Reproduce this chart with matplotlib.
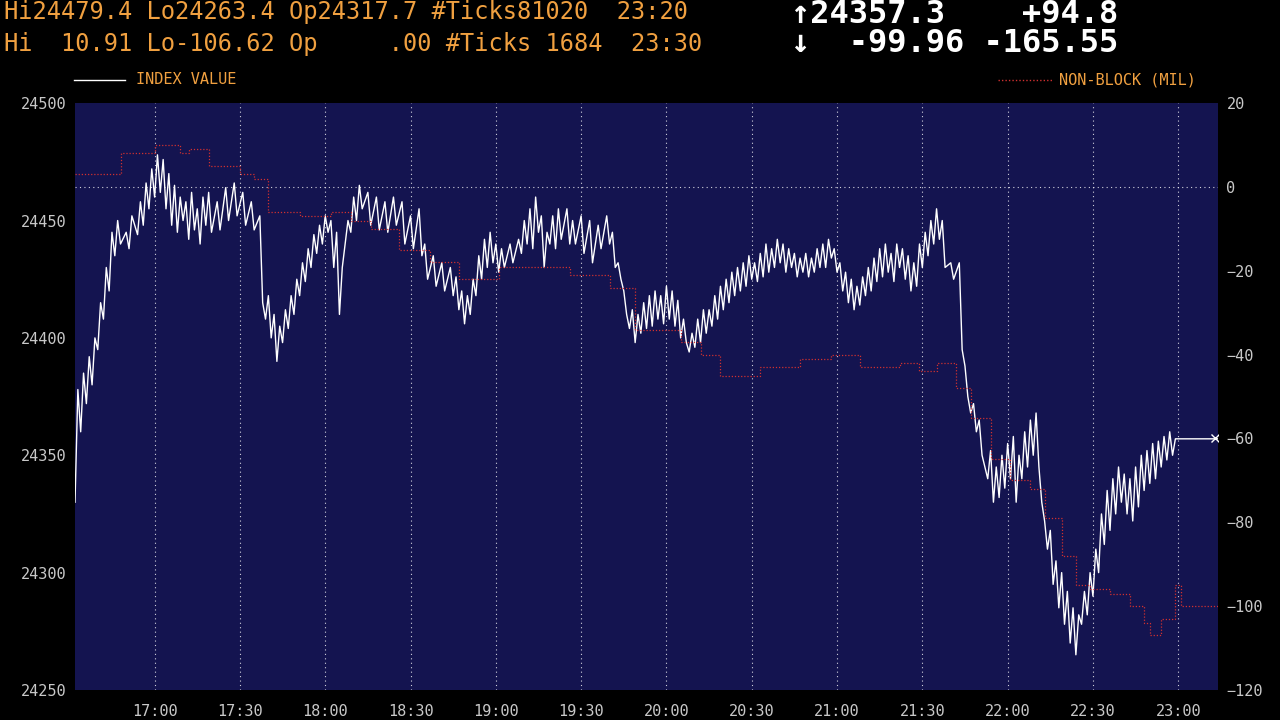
import matplotlib
matplotlib.use("Agg")
import matplotlib.pyplot as plt

# minutes after 17:00
idx_t = [-28, -27, -26, -25, -24, -23, -22, -21, -20, -19, -18, -17, -16, -15, -14, -13, -12, -10, -9, -8,
         -6, -5, -4, -3, -2, -1, 0, 1, 2, 3, 4, 5, 6, 7, 8, 9, 10, 11, 12, 13, 14, 15, 16, 17, 18, 19, 20, 22,
         23, 25, 26, 28, 29, 31, 32, 34, 35, 37, 38, 39, 40, 41, 42, 43, 44, 45, 46, 47, 48, 49, 50, 51, 52,
         53, 54, 55, 56, 57, 58, 59, 60, 61, 62, 63, 64, 65, 66, 67, 68, 69, 70, 71, 72, 73, 75, 76, 78, 79,
         81, 82, 84, 85, 87, 88, 90, 91, 93, 94, 95, 96, 98, 99, 101, 102, 104, 105, 106, 107, 108, 109, 110,
         111, 112, 113, 114, 115, 116, 117, 118, 119, 120, 121, 122, 123, 125, 126, 128, 129, 130, 131, 132,
         133, 134, 135, 136, 137, 138, 139, 140, 141, 142, 143, 145, 146, 147, 148,
         150, 151, 153, 154, 156, 157, 159, 160, 161, 162, 163, 164, 165, 166, 167, 168, 169, 170, 171, 172,
         173, 174, 175, 176, 177, 178, 179, 180, 181, 182, 183, 184, 185, 186, 187, 188, 189, 190, 191, 192,
         193, 194, 195, 196, 197, 198, 199, 200, 201, 202, 203, 204, 205, 206, 207, 208, 209, 210, 211, 212,
         213, 214, 215, 216, 217, 218, 219, 220, 221, 222, 223, 224, 225, 226, 227, 228, 229, 230, 231, 232,
         233, 234, 235, 236, 237, 238, 239, 240, 241, 242, 243, 244, 245, 246, 247, 248, 249, 250, 251, 252,
         253, 254, 255, 256, 257, 258, 259, 260, 261, 262, 263, 264, 265, 266, 267, 268, 269, 270, 271, 272,
         273, 274, 275, 276, 277, 278, 280, 281, 283, 284, 285, 286, 287, 288, 289, 290, 291, 292, 293, 294,
         295, 296, 297, 298, 299, 300, 301, 302, 303, 304, 305, 306, 307, 308, 309, 310, 311, 312, 313, 314,
         315, 316, 317, 318, 319, 320, 321, 322, 323, 324, 325, 326, 327, 328, 329, 330, 331, 332, 333, 334,
         335, 336, 337, 338, 339, 340, 341, 342, 343, 344, 345, 346, 347, 348, 349, 350, 351, 352, 353, 354,
         355, 356, 357, 358, 359, 374]
idx_v = [24330, 24378, 24360, 24385, 24372, 24392, 24380, 24400, 24395, 24415, 24408, 24430, 24420, 24445,
         24435, 24450, 24440, 24445, 24438, 24452, 24444, 24458, 24448, 24466, 24455, 24472, 24460, 24478,
         24462, 24476, 24455, 24470, 24448, 24465, 24445, 24460, 24450, 24458, 24442, 24462, 24446, 24455,
         24440, 24460, 24448, 24462, 24445, 24458, 24446, 24464, 24450, 24466, 24452, 24462, 24448, 24458,
         24446, 24452, 24415, 24408, 24418, 24400, 24410, 24390, 24405, 24398, 24412, 24404, 24418, 24410,
         24425, 24418, 24432, 24424, 24438, 24430, 24444, 24436, 24448, 24440, 24452, 24445, 24450, 24430,
         24445, 24410, 24430, 24440, 24450, 24445, 24460, 24450, 24465, 24455, 24462, 24448, 24460, 24446,
         24458, 24445, 24460, 24448, 24458, 24440, 24452, 24438, 24455, 24435, 24440, 24425, 24435, 24422,
         24432, 24420, 24430, 24418, 24426, 24412, 24420, 24406, 24418, 24410, 24425, 24418, 24435, 24425,
         24442, 24430, 24445, 24432, 24440, 24428, 24438, 24430, 24440, 24432, 24442, 24436, 24450, 24440,
         24455, 24438, 24460, 24445, 24452, 24430, 24445, 24440, 24452, 24438, 24455, 24442, 24455, 24440,
         24450, 24440,
         24452, 24436, 24450, 24432, 24448, 24438, 24452, 24440, 24445, 24430, 24432, 24425, 24420, 24410,
         24404, 24412, 24398, 24410, 24402, 24415, 24404, 24418, 24405, 24420, 24408, 24418, 24406, 24422,
         24408, 24420, 24405, 24416, 24400, 24408, 24398, 24394, 24402, 24396, 24408, 24398, 24412, 24402,
         24412, 24405, 24418, 24408, 24422, 24412, 24425, 24415, 24428, 24418, 24430, 24420, 24432, 24422,
         24435, 24425, 24432, 24424, 24436, 24426, 24440, 24428, 24438, 24430, 24442, 24432, 24440, 24428,
         24438, 24430, 24436, 24426, 24434, 24428, 24436, 24426, 24434, 24428, 24438, 24430, 24440, 24430,
         24442, 24434, 24438, 24428, 24432, 24420, 24428, 24415, 24425, 24412, 24422, 24414, 24426, 24418,
         24430, 24420, 24434, 24424, 24438, 24426, 24440, 24428, 24436, 24424, 24440, 24430, 24438, 24425,
         24435, 24420, 24432, 24422, 24440, 24430, 24445, 24435, 24450, 24440, 24455, 24442, 24450, 24430,
         24432, 24425, 24432, 24395, 24388, 24375, 24368, 24372, 24360, 24365, 24350, 24345, 24340, 24352,
         24330, 24345, 24332, 24350, 24336, 24355, 24340, 24358, 24330, 24350, 24340, 24360, 24345, 24365,
         24350, 24368, 24345, 24330, 24322, 24310, 24318, 24295, 24305, 24285, 24300, 24278, 24292, 24270,
         24285, 24265, 24282, 24278, 24292, 24282, 24300, 24290, 24310, 24300, 24325, 24312, 24335, 24318,
         24340, 24325, 24345, 24330, 24342, 24325, 24340, 24322, 24345, 24328, 24350, 24335, 24352, 24338,
         24355, 24340, 24356, 24345, 24358, 24348, 24360, 24350, 24357, 24357]

blk_t = [-28, -12, 0, 9, 12, 19, 30, 35, 40, 51, 62, 69, 76, 86, 97, 107, 121, 139, 146, 160, 169, 185,
         192, 199, 213, 227, 238, 248, 262, 269, 275, 282, 287, 294, 301, 308, 313, 319, 324, 329, 336,
         343, 348, 350, 354, 359, 361, 374]
blk_v = [3, 8, 10, 8, 9, 5, 3, 2, -6, -7, -6, -8, -10, -15, -18, -22, -19, -19, -21, -24, -34, -37, -40,
         -45, -43, -41, -40, -43, -42, -44, -42, -48, -55, -65, -70, -72, -79, -88, -95, -96, -97, -100,
         -104, -107, -103, -95, -100, -100]

tick_pos = [0, 30, 60, 90, 120, 150, 180, 210, 240, 270, 300, 330, 360]
tick_lab = ["17:00", "17:30", "18:00", "18:30", "19:00", "19:30", "20:00", "20:30",
            "21:00", "21:30", "22:00", "22:30", "23:00"]

MONO = "DejaVu Sans Mono"
ORANGE = "#f0a040"
GREY = "#c8c8c8"

fig = plt.figure(figsize=(12.8, 7.2), dpi=100, facecolor="black")
ax = fig.add_axes([0.0586, 0.0417, 0.893, 0.815])
ax.set_facecolor("#141450")
ax2 = ax.twinx()

ax.plot(idx_t, idx_v, color="white", lw=1.0, zorder=3)
ax2.step(blk_t, blk_v, where="post", color="#d03030", lw=0.9, ls=(0, (1, 1.5)), zorder=2)
ax2.plot([idx_t[-1] - 1], [-60], marker="x", color="white", ms=6, mew=1)

ax.set_xlim(-28, 374)
ax.set_ylim(24250, 24500)
ax2.set_ylim(-120, 20)
ax.set_xticks(tick_pos)
ax.set_xticklabels(tick_lab)
ax.set_yticks(range(24250, 24501, 50))
ax2.set_yticks(range(-120, 21, 20))
for a in (ax, ax2):
    a.tick_params(colors=GREY, labelsize=11, length=0, pad=6)
    for lab in a.get_xticklabels() + a.get_yticklabels():
        lab.set_fontfamily(MONO)
    for s in a.spines.values():
        s.set_visible(False)
ax.tick_params(axis="x", pad=10)
for x in tick_pos:
    ax.axvline(x, color="white", ls=(0, (1, 3)), lw=0.8, alpha=0.8, zorder=1)
ax2.axhline(0, color="white", ls=(0, (1, 3)), lw=0.8, alpha=0.8, zorder=1)

# header lines
fig.text(0.003, 0.984, "Hi24479.4 Lo24263.4 Op24317.7 #Ticks81020  23:20", color=ORANGE,
         family=MONO, fontsize=17, va="center")
fig.text(0.003, 0.939, "Hi  10.91 Lo-106.62 Op     .00 #Ticks 1684  23:30", color=ORANGE,
         family=MONO, fontsize=17, va="center")
fig.text(0.618, 0.980, "↑24357.3    +94.8", color="white", family=MONO, fontsize=23,
         va="center", weight="bold")
fig.text(0.618, 0.939, "↓  -99.96 -165.55", color="white", family=MONO, fontsize=23,
         va="center", weight="bold")

# legend
fig.lines.append(plt.Line2D([0.058, 0.098], [0.889, 0.889], color="white", lw=1, transform=fig.transFigure))
fig.text(0.106, 0.889, "INDEX VALUE", color=ORANGE, family=MONO, fontsize=11, va="center")
fig.lines.append(plt.Line2D([0.78, 0.822], [0.889, 0.889], color="#d03030", lw=1, ls=(0, (1, 1.5)),
                            transform=fig.transFigure))
fig.text(0.827, 0.889, "NON-BLOCK (MIL)", color=ORANGE, family=MONO, fontsize=11, va="center")

fig.savefig("out.png", dpi=100, facecolor="black")
